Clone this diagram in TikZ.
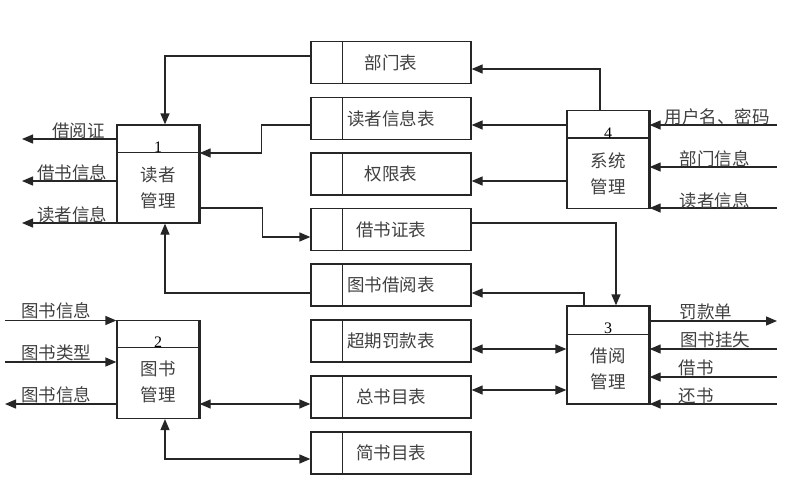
\documentclass[tikz,border=0pt]{standalone}
\usepackage{fontspec}
\setmainfont{Liberation Serif}
\newfontfamily\cjk{Noto Sans CJK SC}
\usetikzlibrary{arrows.meta,calc}
\begin{document}
\begin{tikzpicture}[x=1pt,y=-1pt,
  line width=1.3pt, draw=black!85,
  >={Triangle[length=11pt,width=9pt]},
  store/.style={draw, minimum width=160pt, minimum height=42pt, inner sep=0pt, text=black!75, font=\cjk\fontsize{17.5}{20}\selectfont},
  proc/.style={draw, minimum width=82pt, minimum height=98pt, inner sep=0pt},
  lbl/.style={font=\cjk\fontsize{17.5}{20}\selectfont, text=black!75, inner sep=0pt},
  ptext/.style={font=\cjk\fontsize{17.5}{26}\selectfont, text=black!75, inner sep=0pt, align=center},
  num/.style={font=\fontsize{16}{18}\selectfont, inner sep=0pt},
  thick edge/.style={line width=2.6pt},
]
\useasboundingbox (0,0) rectangle (802,488);

% data stores
\node[store] (ds1) at (391,62.5) {部门表};
\node[store] (ds2) at (391,118.5) {读者信息表};
\node[store] (ds3) at (391,174) {权限表};
\node[store] (ds4) at (391,229.5) {借书证表};
\node[store] (ds5) at (391,285) {图书借阅表};
\node[store] (ds6) at (391,341) {超期罚款表};
\node[store] (ds7) at (391,397) {总书目表};
\node[store] (ds8) at (391,453) {简书目表};
\foreach \d in {ds1,ds2,ds3,ds4,ds5,ds6,ds7,ds8}
  \draw ($(\d.north west)+(32,0)$) -- ($(\d.south west)+(32,0)$);

% processes
\node[proc] (p1) at (158,174) {};
\node[proc] (p2) at (158,369.5) {};
\node[proc] (p3) at (608,355) {};
\node[proc] (p4) at (608,159.5) {};
\draw ($(p1.north west)+(0,28)$) -- ($(p1.north east)+(0,28)$);
\draw ($(p2.north west)+(0,27.5)$) -- ($(p2.north east)+(0,27.5)$);
\draw ($(p3.north west)+(0,29)$) -- ($(p3.north east)+(0,29)$);
\draw ($(p4.north west)+(0,28)$) -- ($(p4.north east)+(0,28)$);
\foreach \p in {p1,p2,p3,p4}
  \draw[thick edge] (\p.north east) -- (\p.south east);

\node[num] (p1n) at (158,147.5) {1};
\node[ptext] (p1t) at (158,188) {读者\\管理};
\node[num] (p2n) at (158,342) {2};
\node[ptext] (p2t) at (158,381.5) {图书\\管理};
\node[num] (p3n) at (608,328) {3};
\node[ptext] (p3t) at (608,368.5) {借阅\\管理};
\node[num] (p4n) at (608,133.5) {4};
\node[ptext] (p4t) at (608,173.5) {系统\\管理};

% free ends
\coordinate (eo1) at (22,139);
\coordinate (eo2) at (22,181);
\coordinate (eo3) at (22,223);
\coordinate (ei4a) at (777,125);
\coordinate (ei4b) at (777,167);
\coordinate (ei4c) at (777,208);
\coordinate (eo3a) at (777,321);
\coordinate (ei3b) at (777,349);
\coordinate (ei3c) at (777,377);
\coordinate (ei3d) at (777,404);
\coordinate (ei2a) at (5,320.5);
\coordinate (ei2b) at (5,362);
\coordinate (eo2c) at (5,404);

% process 1 connectors
\draw[->] ([yshift=6.5pt]ds1.west) -| ([xshift=7pt]p1.north);
\draw[->] ([yshift=-6.5pt]ds2.west) -- ++(-49,0) |- ([yshift=21pt]p1.east);
\draw[->] ([yshift=-34pt]p1.east) -- ++(63,0) |- ([yshift=-7.5pt]ds4.west);
\draw[->] ([yshift=-8pt]ds5.west) -| ([xshift=7pt]p1.south);
\draw[->] (eo1 -| p1.west) -- (eo1);
\draw[->] (eo2 -| p1.west) -- (eo2);
\draw[->] (eo3 -| p1.west) -- (eo3);

% process 4 connectors
\draw[->] ([xshift=-8pt]p4.north) |- ([yshift=-6.5pt]ds1.east);
\draw[->] ([yshift=34.5pt]p4.west) -- ([yshift=-6.5pt]ds2.east);
\draw[->] ([yshift=-21.5pt]p4.west) -- ([yshift=-7pt]ds3.east);
\draw[->] (ei4a) -- (ei4a -| p4.east);
\draw[->] (ei4b) -- (ei4b -| p4.east);
\draw[->] (ei4c) -- (ei4c -| p4.east);

% process 3 connectors
\draw[->] ([yshift=6.5pt]ds4.east) -| ([xshift=8pt]p3.north);
\draw[->] ([xshift=-24pt]p3.north) |- ([yshift=-8pt]ds5.east);
\draw[<->] ([yshift=-8pt]ds6.east) -- ([yshift=6pt]p3.west);
\draw[<->] ([yshift=7pt]ds7.east) -- ([yshift=-35pt]p3.west);
\draw[->] (eo3a -| p3.east) -- (eo3a);
\draw[->] (ei3b) -- (ei3b -| p3.east);
\draw[->] (ei3c) -- (ei3c -| p3.east);
\draw[->] (ei3d) -- (ei3d -| p3.east);

% process 2 connectors
\draw[->] (ei2a) -- (ei2a -| p2.west);
\draw[->] (ei2b) -- (ei2b -| p2.west);
\draw[->] (eo2c -| p2.west) -- (eo2c);
\draw[<->] ([yshift=-34.5pt]p2.east) -- ([yshift=-7pt]ds7.west);
\draw[<->] ([xshift=7pt]p2.south) |- ([yshift=-6pt]ds8.west);

% labels
\node[lbl] (l1) at (78.5,131) {借阅证};
\node[lbl] (l2) at (72,173) {借书信息};
\node[lbl] (l3) at (72,215) {读者信息};
\node[lbl] (l4) at (717,117) {用户名、密码};
\node[lbl] (l5) at (714.5,159) {部门信息};
\node[lbl] (l6) at (714.5,201) {读者信息};
\node[lbl] (l7) at (706,312) {罚款单};
\node[lbl] (l8) at (715,340) {图书挂失};
\node[lbl] (l9) at (696,368) {借书};
\node[lbl] (l10) at (696,396) {还书};
\node[lbl] (l11) at (56,311) {图书信息};
\node[lbl] (l12) at (56,353) {图书类型};
\node[lbl] (l13) at (56,395) {图书信息};
\end{tikzpicture}
\end{document}
